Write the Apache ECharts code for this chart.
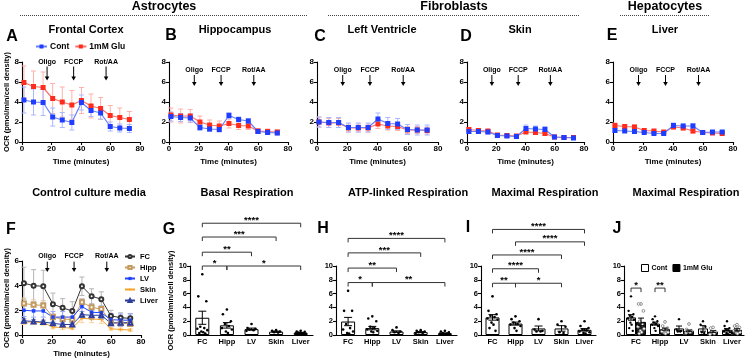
<!DOCTYPE html>
<html><head><meta charset="utf-8">
<script src="https://cdn.jsdelivr.net/npm/echarts@6/dist/echarts.min.js"></script>
<style>html,body{margin:0;padding:0;background:#fff}#c{width:746px;height:362px}</style>
</head><body><div id="c"></div>
<script>
// ---------- DATA ----------
const time = [1.3, 7.8, 14.3, 20.8, 27.3, 33.8, 40.3, 46.8, 53.3, 59.8, 66.3, 72.8];
const injTimes = [17, 35, 57];
const injLabels = ['Oligo', 'FCCP', 'Rot/AA'];

const fcCont    = [4.2, 4.0, 3.95, 2.5, 2.2, 1.95, 3.95, 3.15, 2.9, 1.55, 1.4, 1.35];
const fcContErr = [1.3, 1.3, 1.3, 0.9, 0.75, 0.75, 0.75, 0.6, 0.6, 0.45, 0.4, 0.4];
const fcGlu     = [5.95, 5.55, 5.45, 4.35, 4.0, 3.7, 4.15, 3.6, 3.35, 2.65, 2.45, 2.25];
const fcGluErr  = [1.65, 1.55, 1.55, 1.5, 1.5, 1.45, 1.3, 1.2, 1.1, 1.0, 0.95, 0.8];

const hcCont    = [2.55, 2.45, 2.4, 1.45, 1.3, 1.25, 2.65, 2.25, 2.1, 1.05, 0.95, 0.9];
const hcContErr = [0.45, 0.4, 0.4, 0.3, 0.25, 0.25, 0.3, 0.25, 0.25, 0.2, 0.2, 0.2];
const hcGlu     = [2.7, 2.6, 2.6, 2.0, 1.7, 1.6, 1.85, 1.65, 1.6, 1.1, 1.05, 1.0];
const hcGluErr  = [0.7, 0.7, 0.65, 0.6, 0.5, 0.5, 0.45, 0.4, 0.35, 0.25, 0.25, 0.2];

const lvCont    = [2.0, 1.95, 1.95, 1.45, 1.45, 1.45, 2.3, 1.85, 1.8, 1.25, 1.2, 1.2];
const lvContErr = [0.5, 0.5, 0.5, 0.45, 0.45, 0.45, 0.6, 0.6, 0.55, 0.5, 0.5, 0.5];
const lvGlu     = [2.0, 1.9, 1.9, 1.4, 1.4, 1.4, 1.8, 1.6, 1.55, 1.2, 1.2, 1.15];
const lvGluErr  = [0.5, 0.45, 0.45, 0.4, 0.4, 0.4, 0.45, 0.4, 0.4, 0.35, 0.35, 0.35];

const skCont    = [1.05, 1.05, 1.0, 0.65, 0.6, 0.55, 1.35, 1.3, 1.25, 0.5, 0.45, 0.4];
const skContErr = [0.2, 0.2, 0.2, 0.15, 0.15, 0.1, 0.35, 0.3, 0.3, 0.1, 0.1, 0.1];
const skGlu     = [1.25, 1.15, 1.1, 0.7, 0.65, 0.6, 1.0, 0.95, 0.85, 0.5, 0.45, 0.45];
const skGluErr  = [0.2, 0.2, 0.15, 0.1, 0.1, 0.1, 0.15, 0.15, 0.15, 0.1, 0.1, 0.1];

const liCont    = [1.15, 1.1, 1.05, 0.95, 0.85, 0.85, 1.65, 1.6, 1.6, 0.95, 1.0, 1.0];
const liContErr = [0.2, 0.15, 0.15, 0.1, 0.1, 0.1, 0.25, 0.2, 0.25, 0.1, 0.15, 0.15];
const liGlu     = [1.65, 1.55, 1.5, 1.15, 1.1, 1.0, 1.5, 1.4, 1.1, 0.95, 0.9, 0.85];
const liGluErr  = [0.25, 0.2, 0.2, 0.15, 0.15, 0.1, 0.2, 0.2, 0.2, 0.1, 0.1, 0.1];

const cats = ['FC', 'Hipp', 'LV', 'Skin', 'Liver'];

const basalMean = [2.5, 1.4, 0.85, 0.48, 0.3];
const basalSem  = [0.95, 0.4, 0.15, 0.08, 0.06];
const basalDots = [[8.8, 5.6, 4.9, 1.2, 1.0, 0.9, 0.7, 0.5, 0.4, 0.3, 0.2],
                   [3.7, 3.0, 2.0, 1.6, 1.3, 1.0, 0.8, 0.5, 0.3],
                   [1.6, 1.0, 0.9, 0.8, 0.7, 0.6],
                   [0.7, 0.6, 0.5, 0.4, 0.35],
                   [0.6, 0.5, 0.45, 0.35, 0.3, 0.25, 0.2, 0.15]];
const basalSig = [[0, 1, 10, '*'], [1, 4, 10, '*'], [0, 2, 12, '**'], [0, 3, 14.2, '***'], [0, 4, 16.2, '****']];

const atpMean = [1.95, 1.0, 0.5, 0.42, 0.25];
const atpSem  = [0.6, 0.25, 0.1, 0.07, 0.05];
const atpDots = [[6.4, 3.5, 3.5, 1.6, 1.0, 0.8, 0.5, 0.3, 0.2],
                 [2.7, 2.4, 2.0, 1.2, 1.0, 0.8, 0.6, 0.5, 0.4],
                 [1.1, 0.7, 0.5, 0.4, 0.3],
                 [0.7, 0.6, 0.5, 0.4, 0.3, 0.3],
                 [0.6, 0.5, 0.4, 0.3, 0.2, 0.2, 0.1, 0.1]];
const atpSig = [[0, 1, 7.6, '*'], [1, 4, 7.6, '**'], [0, 2, 9.7, '**'], [0, 3, 11.9, '***'], [0, 4, 14, '****']];

const maxMean = [2.55, 1.65, 0.95, 0.95, 0.75];
const maxSem  = [0.4, 0.22, 0.35, 0.4, 0.18];
const maxDots = [[5.6, 3.5, 3.0, 2.8, 2.6, 2.4, 2.2, 1.8, 1.5, 1.0, 0.6],
                 [2.7, 2.3, 2.0, 1.8, 1.6, 1.5, 1.3, 1.0, 0.6],
                 [2.3, 0.8, 0.6, 0.5, 0.5],
                 [2.0, 1.5, 1.2, 0.4, 0.3],
                 [2.0, 1.3, 1.0, 0.8, 0.7, 0.5, 0.4, 0.3, 0.2]];
const maxSig = [[0, 1, 7.5, '**'], [1, 3, 7.5, '*'], [0, 2, 9.6, '****'], [0, 3, 11.6, '****'], [1, 4, 13.5, '****'], [0, 4, 15.3, '****']];

const maxGluMean = [1.9, 0.85, 0.6, 0.5, 0.75];
const maxGluSem  = [0.55, 0.15, 0.12, 0.12, 0.15];
const maxGluDots = [[4.5, 4.5, 3.5, 2.0, 1.5, 1.2, 0.9, 0.6, 0.4, 0.2],
                    [1.9, 1.3, 1.0, 0.8, 0.6, 0.5, 0.4, 0.3, 0.2],
                    [1.6, 0.8, 0.6, 0.5, 0.4, 0.3],
                    [1.1, 1.0, 0.5, 0.4, 0.2, 0.1],
                    [1.5, 1.3, 1.1, 1.0, 0.8, 0.6, 0.4, 0.3, 0.2]];
const gluSig = [[0, 0, 6.8, '*'], [1, 1, 6.8, '**']];

// ---------- BUILD ----------
const FONT = '"Liberation Sans", Arial, sans-serif';
const grids = [], xAxes = [], yAxes = [], series = [];

function axisBase() {
  return {
    axisLine: {show: true, onZero: false, lineStyle: {color: '#000', width: 1.1}},
    axisTick: {show: true, inside: false, length: 3, lineStyle: {color: '#000', width: 1.1}},
    axisLabel: {color: '#000', fontFamily: FONT, fontWeight: 'bold', fontSize: 8, margin: 3},
    splitLine: {show: false}
  };
}
const nameStyle = {color: '#000', fontFamily: FONT, fontWeight: 'bold', fontSize: 8};
const yNameStyle = {color: '#000', fontFamily: FONT, fontWeight: 'bold', fontSize: 7.5};

function errRender(color, cap) {
  return function (params, api) {
    const x = api.value(0), m = api.value(1), e = api.value(2);
    const hi = api.coord([x, m + e]), lo = api.coord([x, Math.max(m - e, 0)]);
    const st = {stroke: color, lineWidth: 1};
    return {type: 'group', children: [
      {type: 'line', shape: {x1: hi[0], y1: hi[1], x2: lo[0], y2: lo[1]}, style: st},
      {type: 'line', shape: {x1: hi[0] - cap, y1: hi[1], x2: hi[0] + cap, y2: hi[1]}, style: st},
      {type: 'line', shape: {x1: lo[0] - cap, y1: lo[1], x2: lo[0] + cap, y2: lo[1]}, style: st}
    ]};
  };
}

function annRender(txtY, aTop, aTip) {
  return function (params, api) {
    const t = api.value(0);
    const lbl = injLabels[params.dataIndex];
    const pt = api.coord([t, txtY]), pa = api.coord([t, aTop]), pb = api.coord([t, aTip]);
    return {type: 'group', children: [
      {type: 'text', x: pt[0], y: pt[1], style: {text: lbl, align: 'center', verticalAlign: 'middle', font: 'bold 7px ' + FONT, fill: '#000'}},
      {type: 'line', shape: {x1: pa[0], y1: pa[1], x2: pb[0], y2: pb[1] - 2}, style: {stroke: '#000', lineWidth: 1}},
      {type: 'polygon', shape: {points: [[pb[0] - 2.3, pb[1] - 4], [pb[0] + 2.3, pb[1] - 4], [pb[0], pb[1]]]}, style: {fill: '#000'}}
    ]};
  };
}

function timePanel(p) {
  const gi = grids.length;
  grids.push({left: p.left, top: p.top, width: p.width, height: p.height});
  const xa = Object.assign(axisBase(), {type: 'value', gridIndex: gi, min: 0, max: 80, interval: 20,
    name: 'Time (minutes)', nameLocation: 'middle', nameGap: p.xGap, nameTextStyle: nameStyle});
  const ya = Object.assign(axisBase(), {type: 'value', gridIndex: gi, min: 0, max: p.ymax, interval: 2});
  if (p.yName) Object.assign(ya, {name: 'OCR (pmol/min/cell density)', nameLocation: 'middle', nameGap: p.yGap, nameTextStyle: yNameStyle});
  xAxes.push(xa); yAxes.push(ya);
  const xi = xAxes.length - 1, yi = yAxes.length - 1;
  p.lines.forEach(function (s) {
    series.push({type: 'custom', xAxisIndex: xi, yAxisIndex: yi, silent: true, z: 2,
      encode: {x: 0, y: 1}, data: time.map(function (t, i) { return [t, s.mean[i], s.err[i]]; }),
      renderItem: errRender(s.errColor, 2.5)});
  });
  p.lines.forEach(function (s) {
    series.push({type: 'line', name: s.name, xAxisIndex: xi, yAxisIndex: yi, z: 3,
      data: time.map(function (t, i) { return [t, s.mean[i]]; }),
      symbol: s.symbol, symbolSize: s.size, showSymbol: true,
      lineStyle: {color: s.lineColor, width: p.lw || 1.2},
      itemStyle: {color: s.color, borderColor: s.color, borderWidth: s.bw || 0}});
  });
  series.push({type: 'custom', xAxisIndex: xi, yAxisIndex: yi, silent: true, z: 4,
    encode: {x: 0, y: 1}, data: injTimes.map(function (t) { return [t, 0]; }),
    renderItem: annRender(p.ann[0], p.ann[1], p.ann[2])});
}

const jitter = [0, -4, 4, -2, 2, -5, 5, -1, 1, -3, 3, 0];

function barPanel(p) {
  const gi = grids.length;
  grids.push({left: p.left, top: p.top, width: p.width, height: p.height});
  const xc = Object.assign(axisBase(), {type: 'category', gridIndex: gi, data: cats, boundaryGap: true});
  xc.axisTick = {show: false};
  xc.axisLabel.fontSize = 7.5;
  xc.axisLabel.interval = 0;
  xc.axisLabel.hideOverlap = false;
  xAxes.push(xc);
  const xci = xAxes.length - 1;
  xAxes.push({type: 'value', gridIndex: gi, min: -0.5, max: 4.5, show: false});
  const xvi = xAxes.length - 1;
  const ya = Object.assign(axisBase(), {type: 'value', gridIndex: gi, min: 0, max: 10, interval: 2});
  ya.axisLabel.fontSize = 7.5;
  if (p.yName) Object.assign(ya, {name: 'OCR (pmol/min/cell density)', nameLocation: 'middle', nameGap: p.yGap, nameTextStyle: yNameStyle});
  yAxes.push(ya);
  const yi = yAxes.length - 1;
  p.groups.forEach(function (g) {
    series.push({type: 'bar', name: g.name, xAxisIndex: xci, yAxisIndex: yi, data: g.mean,
      barWidth: p.barWidth, barGap: '0%', z: 2,
      itemStyle: {color: g.fill, borderColor: '#000', borderWidth: 1}});
  });
  p.groups.forEach(function (g) {
    const flat = [];
    g.dots.forEach(function (arr, ci) { arr.forEach(function (v, k) { flat.push([ci, v, k]); }); });
    series.push({type: 'custom', xAxisIndex: xvi, yAxisIndex: yi, silent: true, z: 3,
      encode: {x: 0, y: 1}, data: flat,
      renderItem: function (params, api) {
        const pt = api.coord([api.value(0), api.value(1)]);
        const k = api.value(2);
        return {type: 'circle', shape: {cx: pt[0] + g.side + jitter[k % jitter.length] * p.jit, cy: pt[1], r: g.r},
          style: {fill: g.dotFill, stroke: g.dotStroke, lineWidth: g.dotLw}};
      }});
    series.push({type: 'custom', xAxisIndex: xvi, yAxisIndex: yi, silent: true, z: 4,
      encode: {x: 0, y: 1}, data: g.mean.map(function (m, i) { return [i, m, g.sem[i]]; }),
      renderItem: function (params, api) {
        const c = api.value(0), m = api.value(1), s = api.value(2);
        const hi = api.coord([c, m + s]), lo = api.coord([c, m - s]);
        const x = hi[0] + g.side, cap = p.cap;
        const st = {stroke: g.errColor, lineWidth: 1};
        return {type: 'group', children: [
          {type: 'line', shape: {x1: x, y1: hi[1], x2: x, y2: lo[1]}, style: st},
          {type: 'line', shape: {x1: x - cap, y1: hi[1], x2: x + cap, y2: hi[1]}, style: st},
          {type: 'line', shape: {x1: x - cap, y1: lo[1], x2: x + cap, y2: lo[1]}, style: st}
        ]};
      }});
  });
  series.push({type: 'custom', xAxisIndex: xvi, yAxisIndex: yi, silent: true, z: 5,
    encode: {x: 0, y: 1}, data: p.sig.map(function (b) { return [b[0], b[2]]; }),
    renderItem: function (params, api) {
      const b = p.sig[params.dataIndex];
      const p1 = api.coord([b[0], b[2]]), p2 = api.coord([b[1], b[2]]);
      const x1 = p1[0] + p.sigSide[0], x2 = p2[0] + p.sigSide[1], y = p1[1];
      return {type: 'group', children: [
        {type: 'polyline', shape: {points: [[x1, y + 4], [x1, y], [x2, y], [x2, y + 4]]}, style: {stroke: '#333', lineWidth: 1, fill: null}},
        {type: 'text', x: (x1 + x2) / 2, y: y + 2, style: {text: b[3], align: 'center', verticalAlign: 'bottom', font: 'bold 9.5px ' + FONT, fill: '#000'}}
      ]};
    }});
}

// colours
const BLUE = '#1f3dff', BLUE_L = '#6680ff', BLUE_E = '#aab8ff';
const RED = '#ff2b1c', RED_L = '#ff7166', RED_E = '#ffb1aa';

function pair(cont, contErr, glu, gluErr) {
  return [
    {name: '1mM Glu', mean: glu, err: gluErr, color: RED, lineColor: RED_L, errColor: RED_E, symbol: 'rect', size: 5},
    {name: 'Cont', mean: cont, err: contErr, color: BLUE, lineColor: BLUE_L, errColor: BLUE_E, symbol: 'rect', size: 5}
  ];
}

const TOP = 62, TH = 80;
timePanel({left: 22, top: TOP, width: 118, height: TH, ymax: 8, xGap: 16, yName: true, yGap: 11, ann: [8.0, 7.55, 6.15], lines: pair(fcCont, fcContErr, fcGlu, fcGluErr)});
timePanel({left: 169, top: TOP, width: 119, height: TH, ymax: 8, xGap: 16, ann: [7.2, 6.7, 5.6], lines: pair(hcCont, hcContErr, hcGlu, hcGluErr)});
timePanel({left: 317, top: TOP, width: 121, height: TH, ymax: 8, xGap: 16, ann: [7.2, 6.7, 5.6], lines: pair(lvCont, lvContErr, lvGlu, lvGluErr)});
timePanel({left: 467, top: TOP, width: 117, height: TH, ymax: 8, xGap: 16, ann: [7.2, 6.7, 5.6], lines: pair(skCont, skContErr, skGlu, skGluErr)});
timePanel({left: 613, top: TOP, width: 120, height: TH, ymax: 8, xGap: 16, ann: [7.2, 6.7, 5.6], lines: pair(liCont, liContErr, liGlu, liGluErr)});

const plusPath = 'path://M4,0H6V4H10V6H6V10H4V6H0V4H4Z';
timePanel({left: 22, top: 261, width: 119, height: 74, ymax: 6, xGap: 15, yName: true, yGap: 11, lw: 1, ann: [6.4, 5.95, 5.1], lines: [
  {name: 'FC', mean: fcCont, err: fcContErr, color: '#333', lineColor: '#333', errColor: '#b5b5b5', symbol: 'emptyCircle', size: 4, bw: 0.8},
  {name: 'Hipp', mean: hcCont, err: hcContErr, color: '#c49a5e', lineColor: '#c49a5e', errColor: '#e5cba5', symbol: 'emptyRect', size: 4, bw: 0.8},
  {name: 'LV', mean: lvCont, err: lvContErr, color: '#1e44ff', lineColor: '#1e44ff', errColor: '#95a7ff', symbol: 'rect', size: 3.5},
  {name: 'Skin', mean: skCont, err: skContErr, color: '#f6a324', lineColor: '#f6a324', errColor: '#fcd29a', symbol: plusPath, size: 4},
  {name: 'Liver', mean: liCont, err: liContErr, color: '#2c3d9c', lineColor: '#2c3d9c', errColor: '#97a2d6', symbol: 'emptyTriangle', size: 4, bw: 0.8}
]});

function contGroup(mean, sem, dots) {
  return {name: 'bars', mean: mean, sem: sem, dots: dots, fill: '#fff', side: 0, r: 1.3, dotFill: '#000', dotStroke: null, dotLw: 0, errColor: '#000'};
}
barPanel({left: 190, top: 266, width: 123, height: 69, barWidth: 14, jit: 1, cap: 4, yName: true, yGap: 14,
  groups: [contGroup(basalMean, basalSem, basalDots)], sig: basalSig, sigSide: [0, 0]});
barPanel({left: 336, top: 266, width: 121, height: 69, barWidth: 14, jit: 1, cap: 4,
  groups: [contGroup(atpMean, atpSem, atpDots)], sig: atpSig, sigSide: [0, 0]});
barPanel({left: 481, top: 266, width: 115, height: 69, barWidth: 14, jit: 1, cap: 4,
  groups: [contGroup(maxMean, maxSem, maxDots)], sig: maxSig, sigSide: [0, 0]});
barPanel({left: 624, top: 266, width: 120, height: 69, barWidth: 10, jit: 0.6, cap: 3,
  groups: [
    {name: 'J Cont', mean: maxMean, sem: maxSem, dots: maxDots, fill: '#fff', side: -5, r: 1.2, dotFill: '#000', dotStroke: null, dotLw: 0, errColor: '#000'},
    {name: 'J Glu', mean: maxGluMean, sem: maxGluSem, dots: maxGluDots, fill: '#1a1a1a', side: 5, r: 1.4, dotFill: '#fff', dotStroke: '#777', dotLw: 0.8, errColor: '#000'}
  ], sig: gluSig, sigSide: [-5, 5]});

// ---------- TEXT / DECORATION ----------
function T(x, y, text, size) {
  return {type: 'text', x: x, y: y, silent: true, style: {text: text, font: 'bold ' + size + 'px ' + FONT, fill: '#000', align: 'center', verticalAlign: 'middle'}};
}
function dotted(x1, x2, y) {
  return {type: 'line', silent: true, shape: {x1: x1, y1: y, x2: x2, y2: y}, style: {stroke: '#444', lineWidth: 1, lineDash: [1, 1]}};
}
const graphic = [
  T(164, 7, 'Astrocytes', 12.5), T(454, 7, 'Fibroblasts', 12.5), T(665, 7, 'Hepatocytes', 12.5),
  dotted(20, 308, 15.5), dotted(328, 580, 15.5), dotted(620, 710, 15.5),
  T(86, 30, 'Frontal Cortex', 11), T(235, 30, 'Hippocampus', 11), T(382, 30, 'Left Ventricle', 11),
  T(520, 30, 'Skin', 11), T(665, 30, 'Liver', 11),
  T(12, 37, 'A', 16), T(171, 36, 'B', 16), T(320, 37, 'C', 16), T(466, 37, 'D', 16), T(612, 36, 'E', 16),
  T(89, 193, 'Control culture media', 11), T(247, 193, 'Basal Respiration', 11), T(408, 193, 'ATP-linked Respiration', 11),
  T(545, 193, 'Maximal Respiration', 11), T(686, 193, 'Maximal Respiration', 11),
  T(11, 230, 'F', 16), T(169, 230, 'G', 16), T(323, 229, 'H', 16), T(468, 228, 'I', 16), T(617, 229, 'J', 16)
];

const legTxt = {color: '#000', fontFamily: FONT, fontWeight: 'bold'};
const option = {
  animation: false,
  textStyle: {fontFamily: FONT},
  grid: grids, xAxis: xAxes, yAxis: yAxes, series: series, graphic: graphic,
  legend: [
    {left: 35, top: 42, orient: 'horizontal', padding: 0, itemWidth: 11, itemHeight: 5, itemGap: 5,
      data: ['Cont', '1mM Glu'], selectedMode: false, textStyle: Object.assign({fontSize: 8.5, padding: [0, 0, 0, -2]}, legTxt)},
    {left: 124, top: 252, orient: 'vertical', padding: 0, itemWidth: 10, itemHeight: 4, itemGap: 2,
      data: ['FC', 'Hipp', 'LV', 'Skin', 'Liver'], selectedMode: false, textStyle: Object.assign({fontSize: 7.5, lineHeight: 9}, legTxt)},
    {left: 641, top: 264, orient: 'horizontal', padding: 0, itemWidth: 7, itemHeight: 7, itemGap: 5, selectedMode: false,
      data: [{name: 'J Cont', icon: 'rect', itemStyle: {color: '#fff', borderColor: '#000', borderWidth: 1}},
             {name: 'J Glu', icon: 'rect', itemStyle: {color: '#000', borderColor: '#000', borderWidth: 1}}],
      formatter: function (n) { return n === 'J Cont' ? 'Cont' : '1mM Glu'; },
      textStyle: Object.assign({fontSize: 7, padding: [0, 0, 0, -2]}, legTxt)}
  ]
};
const chart = echarts.init(document.getElementById('c'));
chart.setOption(option);
</script>
</body></html>
